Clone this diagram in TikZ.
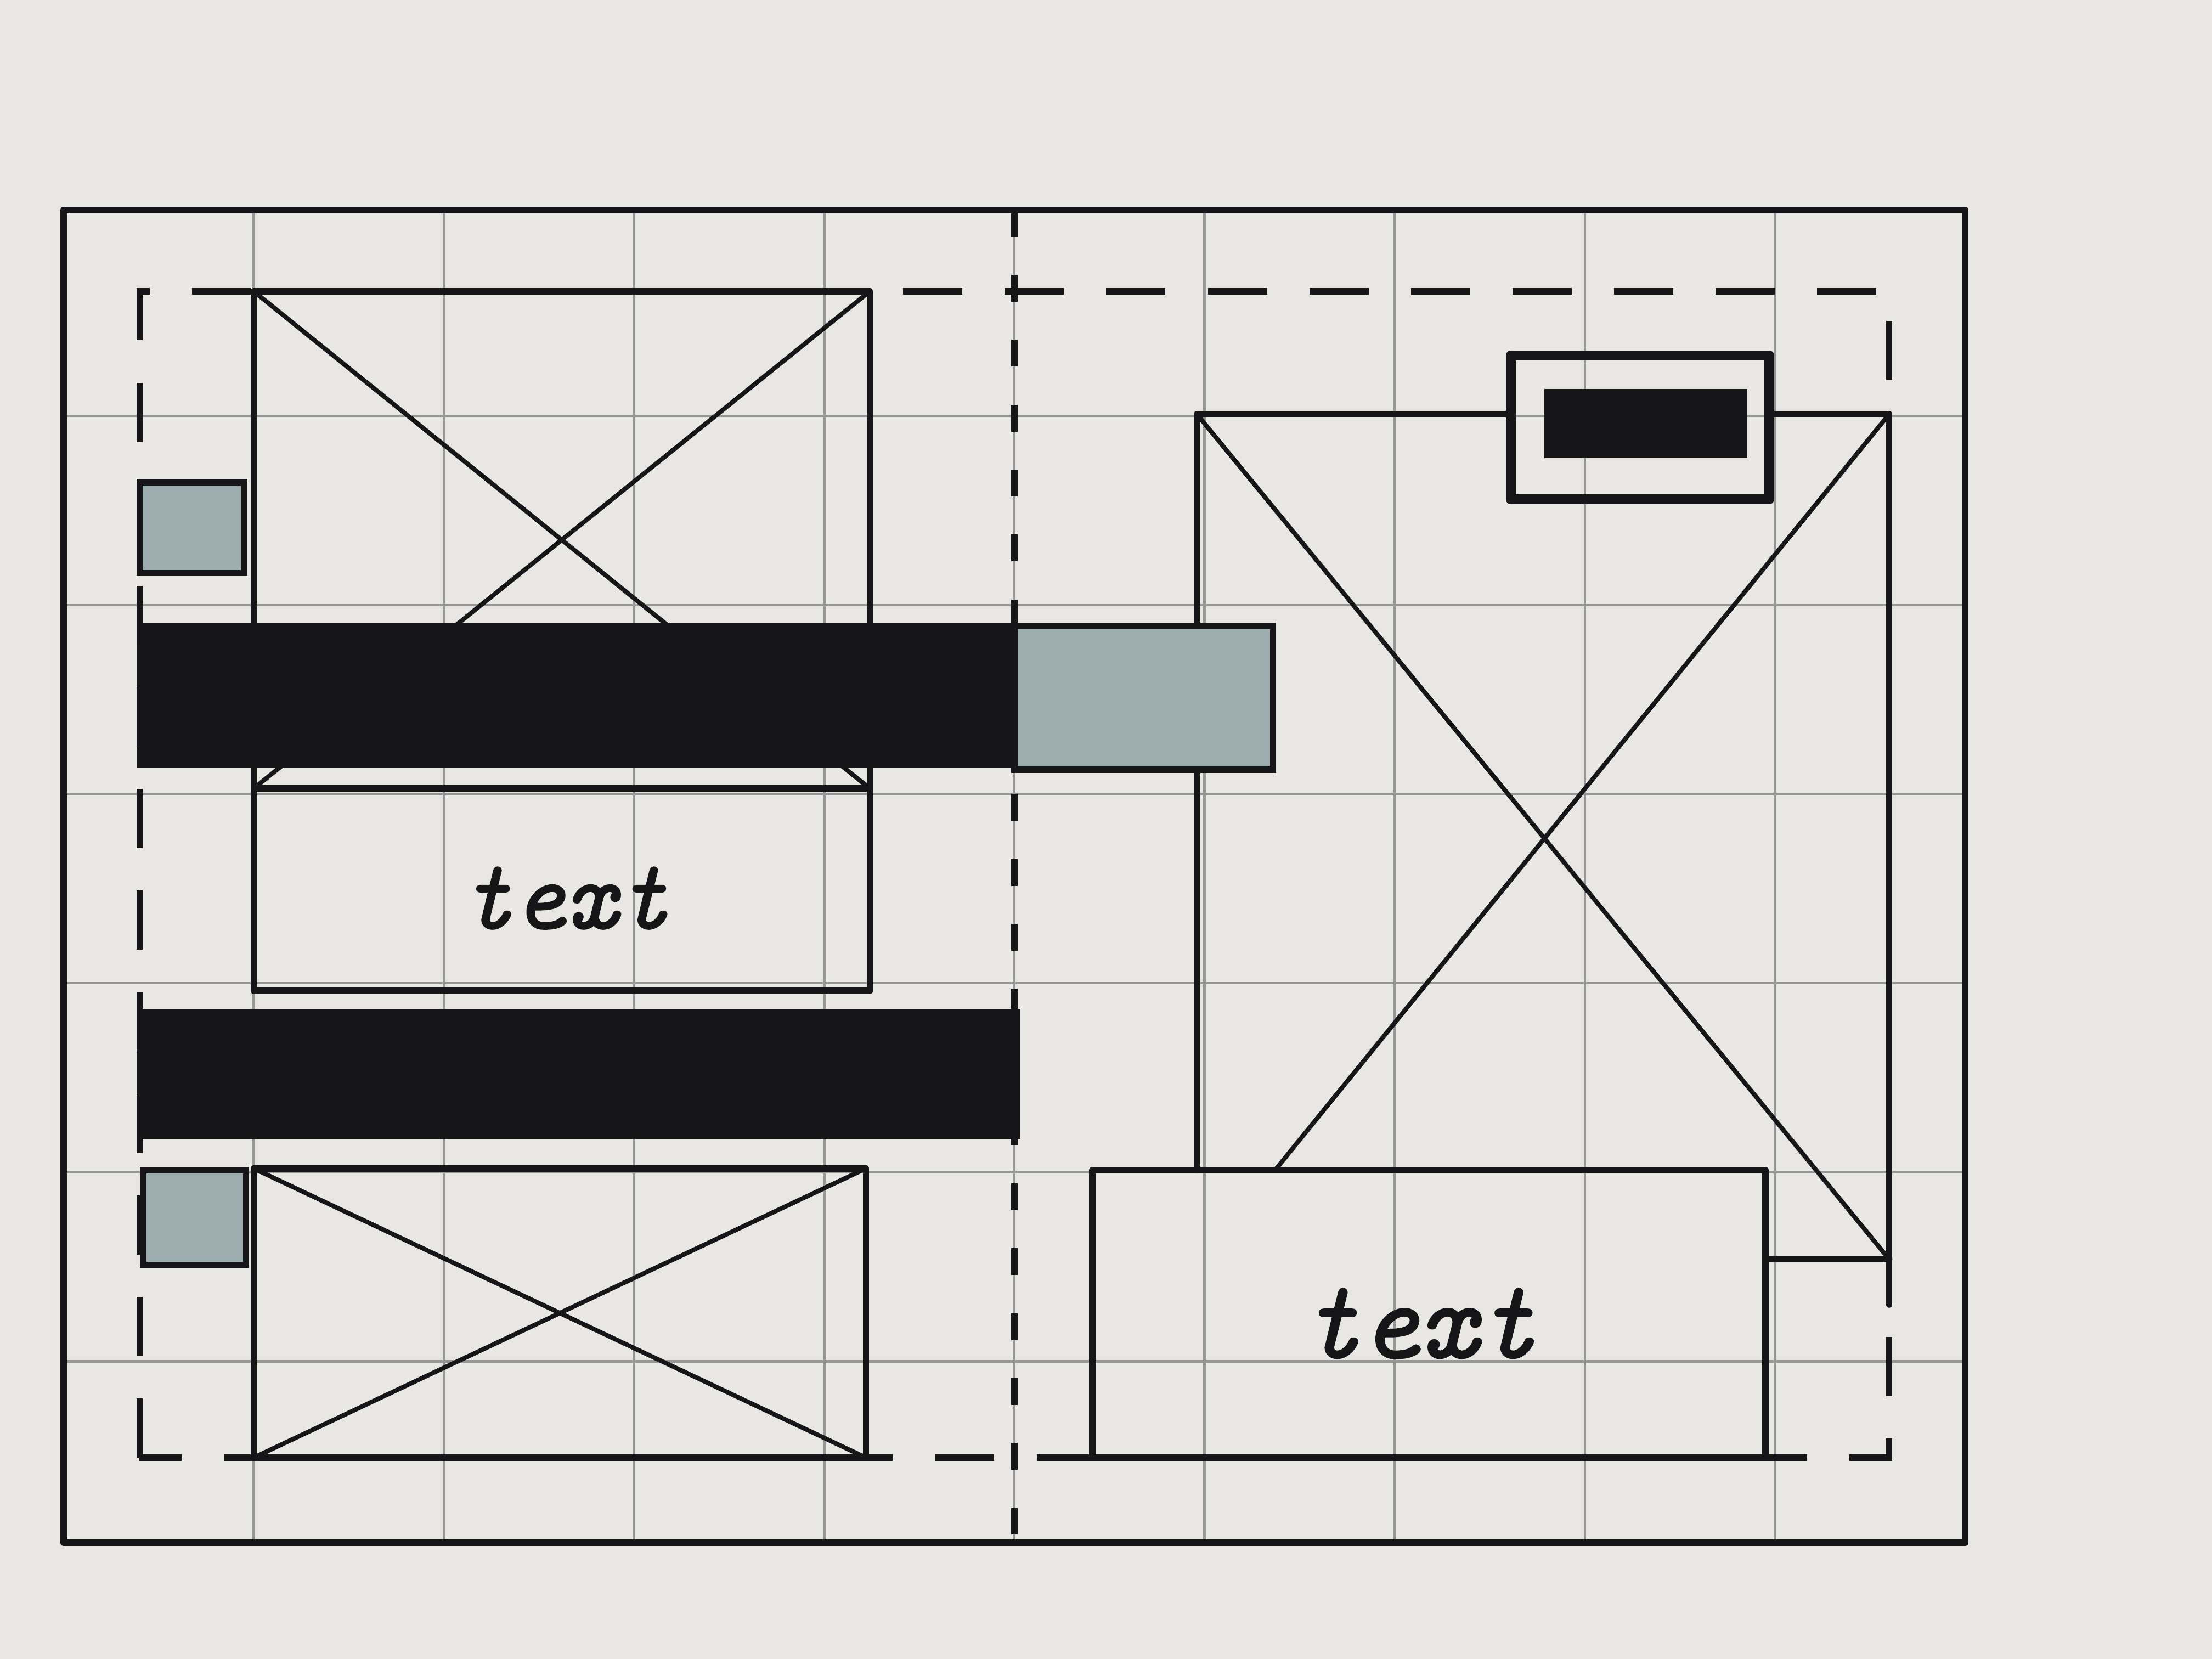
\documentclass[tikz,border=0pt]{standalone}
\usepackage{fontspec}
\newfontfamily\handfont[FakeBold=1.6]{Latin Modern Mono}
\definecolor{paper}{RGB}{232,231,228}
\definecolor{ink}{RGB}{22,22,24}
\definecolor{pencil}{RGB}{150,150,150}
\definecolor{wash}{RGB}{157,172,174}
\begin{document}
\begin{tikzpicture}[x=1.348cm,y=1.34cm,
 inkline/.style={draw=ink,line width=1.3pt,line cap=round,line join=round},
 crossline/.style={draw=ink,line width=0.9pt,line cap=round},
 gridline/.style={draw=pencil,line width=0.5pt},
 marginline/.style={draw=ink,line width=1.3pt,dash pattern=on 0.42cm off 0.3cm},
 gutterline/.style={draw=ink,line width=1.4pt,dash pattern=on 0.19cm off 0.27cm},
 swatch/.style={fill=wash,draw=ink,line width=1.3pt},
 inkbar/.style={fill=ink,draw=ink,line width=1pt},
 sketchtext/.style={text=ink,font=\handfont\itshape\fontsize{#1}{#1}\selectfont}]
 \fill[paper] (-0.334,-0.575) rectangle (11.298,8.201);
 \useasboundingbox (-0.334,-0.575) rectangle (11.298,8.201);
 \foreach \x in {1,...,9} \draw[gridline] (\x,0.04)--(\x,7.09);
 \foreach \y in {1,...,6} \draw[gridline] (0,\y)--(10,\y);
 \draw[inkline] (0,0.04) rectangle (10,7.09);
 \draw[marginline] (0.4,0.49) rectangle (9.6,6.66);
 \draw[gutterline] (5,7.09)--(5,0.04);
 \draw[inkline] (1,4.03) rectangle (4.24,6.66);
 \draw[crossline] (1,6.66)--(4.24,4.03) (4.24,6.66)--(1,4.03);
 \draw[inkline] (1,2.96) rectangle (4.24,4.03);
 \node[sketchtext=20] (lefttext) at (2.64,3.45) {text};
 \draw[inkline] (1,0.49) rectangle (4.22,2.02);
 \draw[crossline] (1,0.49)--(4.22,2.02) (1,2.02)--(4.22,0.49);
 \draw[inkline] (5.96,2.01)--(5.96,6.01)--(7.61,6.01) (8.97,6.01)--(9.6,6.01)--(9.6,1.3);
 \draw[inkline] (8.95,1.54)--(9.6,1.54);
 \draw[crossline] (5.96,6.01)--(9.6,1.54) (9.6,6.01)--(6.37,2.01);
 \draw[inkline] (5.41,0.49) rectangle (8.95,2.01);
 \node[sketchtext=22.5] (righttext) at (7.13,1.2) {text};
 \draw[inkbar] (0.4,4.15) rectangle (5,4.89);
 \draw[swatch] (5,4.13) rectangle (6.36,4.89);
 \draw[inkbar] (0.4,2.19) rectangle (5.02,2.85);
 \draw[swatch] (0.4,5.17) rectangle (0.95,5.65);
 \draw[swatch] (0.42,1.51) rectangle (0.96,2.01);
 \draw[inkline,line width=2pt] (7.61,5.56) rectangle (8.97,6.32);
 \draw[inkbar] (7.8,5.79) rectangle (8.84,6.13);
\end{tikzpicture}
\end{document}
